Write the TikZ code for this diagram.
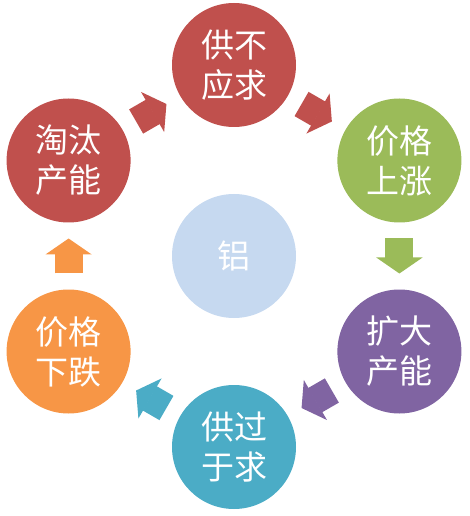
\documentclass[tikz,border=0pt]{standalone}
\usepackage{fontspec}
\newfontfamily\cjk{Noto Sans CJK SC}
\usepackage{tikz}
\usetikzlibrary{arrows.meta}
\definecolor{cred}{HTML}{C0504D}
\definecolor{cgreen}{HTML}{9BBB59}
\definecolor{cpurple}{HTML}{8064A2}
\definecolor{cteal}{HTML}{4BACC6}
\definecolor{corange}{HTML}{F79646}
\definecolor{clight}{HTML}{C6D9F0}
\tikzset{bubble/.style={circle, minimum size=124pt, inner sep=0pt, outer sep=0pt,
    text=white, align=center, font=\cjk\fontsize{33}{40}\selectfont}}
\tikzset{blockarrow/.style={line width=28pt, -{Triangle[width=46pt,length=16pt,line width=2pt]},
    shorten <=16pt, shorten >=16pt}}

\begin{document}
\begin{tikzpicture}[x=1pt, y=1pt]
\useasboundingbox (-234,-260) rectangle (235,256);
\node[bubble, fill=clight] (al) at (0,0) {铝};
\node[bubble, fill=cred] (gbyq) at (90:191) {供不\\应求};
\node[bubble, fill=cgreen] (jgsz) at (30:191) {价格\\上涨};
\node[bubble, fill=cpurple] (kdcn) at (-30:191) {扩大\\产能};
\node[bubble, fill=cteal] (ggyq) at (-90:191) {供过\\于求};
\node[bubble, fill=corange] (jgxd) at (210:191) {价格\\下跌};
\node[bubble, fill=cred] (ttcn) at (150:191) {淘汰\\产能};
\foreach \a/\b/\c in {ttcn/gbyq/cred, gbyq/jgsz/cred, jgsz/kdcn/cgreen,
    kdcn/ggyq/cpurple, ggyq/jgxd/cteal, jgxd/ttcn/corange} {
  \draw[blockarrow, \c] (\a) -- (\b);
}
\end{tikzpicture}
\end{document}
